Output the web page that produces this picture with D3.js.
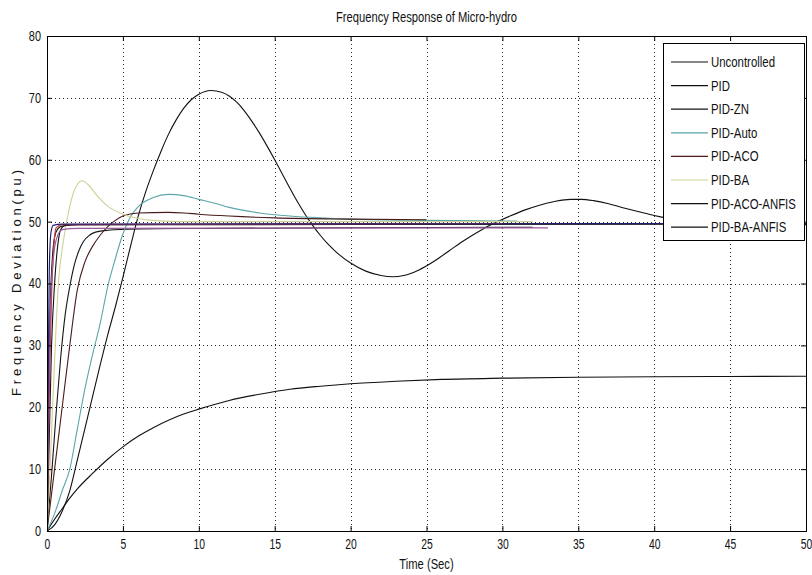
<!DOCTYPE html>
<html><head><meta charset="utf-8">
<script src="https://cdn.jsdelivr.net/npm/d3@7"></script>
<style>
body{margin:0;background:#fff}
text{font-family:"Liberation Sans",Arial,sans-serif;fill:#111}
</style>
</head><body>
<svg id="c" width="812" height="575"></svg>
<script>
// ---- data (time in sec, frequency deviation in pu) ----
const xTicks = [0,5,10,15,20,25,30,35,40,45,50];
const yTicks = [0,10,20,30,40,50,60,70,80];
const seriesNames = ["Uncontrolled","PID","PID-ZN","PID-Auto","PID-ACO","PID-BA","PID-ACO-ANFIS","PID-BA-ANFIS"];

const uncontrolled = [[0,0],[0.5,1.9],[1,3.6],[1.5,5.3],[2,6.8],[3,9.3],[4,11.6],[5,13.6],[6,15.3],[7,16.7],[8,17.9],[9,18.9],[10,19.7],[12,21.1],[14,22.1],[16,22.9],[18,23.4],[20,23.8],[23,24.2],[26,24.5],[30,24.7],[35,24.85],[40,24.93],[45,24.97],[50,25.0]];
const pid = [[0,0],[0.5,1],[1,3.2],[1.5,6.5],[2,11.5],[2.5,16.6],[3,21.7],[3.5,26.8],[4,31.7],[4.5,36.2],[5,41],[5.5,46],[6,50.8],[6.5,54.8],[7,58.2],[7.5,61.3],[8,64.1],[8.5,66.4],[9,68.3],[9.5,69.7],[10,70.6],[10.8,71.2],[11.5,70.9],[12,70.3],[12.5,69.3],[13,67.9],[13.5,66.2],[14,64.3],[14.5,62.2],[15,60],[15.5,57.7],[16,55.4],[16.5,53.2],[17,51.2],[17.5,49.4],[18,47.8],[18.5,46.4],[19,45.2],[20,43.3],[21,42],[22,41.3],[22.8,41.1],[23.5,41.3],[24.5,42.2],[25.5,43.6],[26.5,45.3],[27.5,47],[28.5,48.5],[29.5,49.8],[30.5,50.9],[31.5,51.9],[32.5,52.7],[33.5,53.3],[34.5,53.6],[35.2,53.6],[36,53.4],[37,52.9],[38,52.2],[39,51.6],[40,51],[41,50.5],[42,50.1],[44,49.5],[46,49.2],[48,49.3],[50,49.5]];
const pidZN = [[0,0],[0.3,9],[0.6,19],[0.9,28],[1.2,35],[1.5,39.5],[1.8,43],[2.1,45.3],[2.4,46.8],[2.8,47.8],[3.2,48.3],[4,48.6],[6,48.8],[10,48.9],[20,49],[32,49.1]];
const pidAuto = [[0,0],[0.5,2.8],[1,6.5],[1.5,10],[2,16.5],[2.5,23],[3,28.5],[3.5,33.5],[4,39.5],[4.5,44],[5,48],[5.5,50.8],[6,52.4],[7,53.9],[8,54.4],[9,54.2],[10,53.6],[11,53],[12,52.3],[14,51.4],[16,50.9],[18,50.6],[20,50.4],[25,50.2],[31,50.1]];
const pidACO = [[0,0],[0.5,10],[1,20],[1.5,30],[2,39],[2.5,43.5],[3,46],[3.5,47.8],[4,49.2],[4.5,50.2],[5,50.9],[6,51.4],[8,51.5],[9,51.4],[10,51.2],[12,50.9],[15,50.6],[20,50.4],[25,50.3]];
const pidBA = [[0,0],[0.2,10],[0.4,22],[0.6,33],[0.75,40],[1,45.5],[1.3,50],[1.6,53.5],[2,56],[2.3,56.6],[2.7,56],[3.2,54.5],[4,52.5],[5,51.2],[6,50.5],[7,50.2],[9,50],[15,50],[25,50],[32,50]];
const pidACOANFIS = [[0,0],[0.1,20],[0.2,35],[0.35,44],[0.5,47.5],[0.7,48.8],[1,49.3],[2,49.5],[10,49.5],[30,49.6],[50,49.6]];
const pidBAANFIS = [[0,0],[0.15,15],[0.3,30],[0.5,40],[0.7,46],[0.9,48.7],[1.2,49.4],[2,49.5],[20,49.6],[50,49.7]];
// additional traces visible in the plot (not in the legend)
const extraNavy = [[0,0],[0.05,15],[0.1,30],[0.15,42],[0.25,48],[0.4,49.4],[1,49.6],[50,49.7]];
const extraRed = [[0,0],[0.1,15],[0.2,28],[0.3,38],[0.45,46],[0.6,49],[1,49.5],[30,49.7]];
const extraPurple = [[0,0],[0.1,20],[0.3,40],[0.6,47],[1,48.7],[2,48.9],[33,49]];

const seriesData = [uncontrolled,pid,pidZN,pidAuto,pidACO,pidBA,pidACOANFIS,pidBAANFIS];
const seriesColors = ["#111","#111","#151515","#5aa6a6","#4a1c1c","#cfcf98","#111","#111"];
const extraData = [extraRed, extraPurple, extraNavy];
const extraColors = ["#c03a3a","#9a5a9a","#23207a"];

// ---- layout ----
const svg = d3.select("#c");
const L=47, R=806, T=36, B=531;
const x = d3.scaleLinear().domain([0,50]).range([L,R]);
const y = d3.scaleLinear().domain([0,80]).range([B,T]);

// condense text horizontally (narrow MATLAB-like font)
function condense(sel, k){
  sel.each(function(){
    const n = this.getComputedTextLength();
    if(n>0){ d3.select(this).attr("textLength", n*k).attr("lengthAdjust","spacingAndGlyphs"); }
  });
}

svg.append("defs").append("clipPath").attr("id","clip")
  .append("rect").attr("x",L).attr("y",T).attr("width",R-L).attr("height",B-T);

// grid
const grid = svg.append("g").attr("stroke","#222").attr("stroke-width",1).attr("stroke-dasharray","1,3");
grid.selectAll(".gx").data(xTicks.filter(d=>d>0&&d<50)).join("line")
  .attr("x1",d=>Math.round(x(d))+0.5).attr("x2",d=>Math.round(x(d))+0.5).attr("y1",T).attr("y2",B);
grid.selectAll(".gy").data(yTicks.filter(d=>d>0&&d<80)).join("line")
  .attr("y1",d=>Math.round(y(d))+0.5).attr("y2",d=>Math.round(y(d))+0.5).attr("x1",L).attr("x2",R);

// lines
const line = d3.line().x(d=>x(d[0])).y(d=>y(d[1])).curve(d3.curveMonotoneX);
const plot = svg.append("g").attr("clip-path","url(#clip)");
seriesData.forEach((s,i)=>{
  plot.append("path").attr("d",line(s)).attr("fill","none").attr("stroke",seriesColors[i]).attr("stroke-width",1.1);
});
extraData.forEach((s,i)=>{
  plot.append("path").attr("d",line(s)).attr("fill","none").attr("stroke",extraColors[i]).attr("stroke-width",1.2);
});

// axes (MATLAB-like: inward ticks on all four sides)
const axB = svg.append("g").attr("transform",`translate(0,${B})`)
  .call(d3.axisBottom(x).tickValues(xTicks).tickSize(-5).tickPadding(8).tickFormat(d3.format("d")));
const axT = svg.append("g").attr("transform",`translate(0,${T})`)
  .call(d3.axisTop(x).tickValues(xTicks).tickSize(-5).tickFormat(""));
const axL = svg.append("g").attr("transform",`translate(${L},0)`)
  .call(d3.axisLeft(y).tickValues(yTicks).tickSize(-5).tickPadding(6).tickFormat(d3.format("d")));
const axR = svg.append("g").attr("transform",`translate(${R},0)`)
  .call(d3.axisRight(y).tickValues(yTicks).tickSize(-5).tickFormat(""));
[axB,axT,axL,axR].forEach(a=>{
  a.select(".domain").attr("stroke","#000");
  a.selectAll(".tick line").attr("stroke","#000");
  a.selectAll("text").style("font-size","14px").style("font-family","'Liberation Sans',Arial,sans-serif").attr("fill","#111");
});
condense(axB.selectAll("text"),0.74);
condense(axL.selectAll("text"),0.78);

// legend
const leg = svg.append("g");
const lx=663, ly=43, lw=141, lh=197;
leg.append("rect").attr("x",lx+0.5).attr("y",ly+0.5).attr("width",lw).attr("height",lh)
  .attr("fill","#fff").attr("stroke","#000");
seriesNames.forEach((n,i)=>{
  const yy = ly+19+i*23.6;
  leg.append("line").attr("x1",lx+8).attr("x2",lx+45).attr("y1",yy).attr("y2",yy)
    .attr("stroke",seriesColors[i]).attr("stroke-width",1.2);
  const t = leg.append("text").attr("x",lx+48).attr("y",yy+5).style("font-size","15px").text(n);
  condense(t,0.76);
});

// titles
const title = svg.append("text").attr("x",(L+R)/2).attr("y",22).attr("text-anchor","middle")
  .style("font-size","14px").text("Frequency Response of Micro-hydro");
condense(title,0.8);
const xl = svg.append("text").attr("x",(L+R)/2).attr("y",569).attr("text-anchor","middle")
  .style("font-size","14px").text("Time (Sec)");
condense(xl,0.8);
svg.append("text").attr("transform",`translate(21,283) rotate(-90)`).attr("text-anchor","middle")
  .style("font-size","13px").attr("textLength",226).attr("lengthAdjust","spacing")
  .text("Frequency Deviation(pu)");
</script>
</body></html>
